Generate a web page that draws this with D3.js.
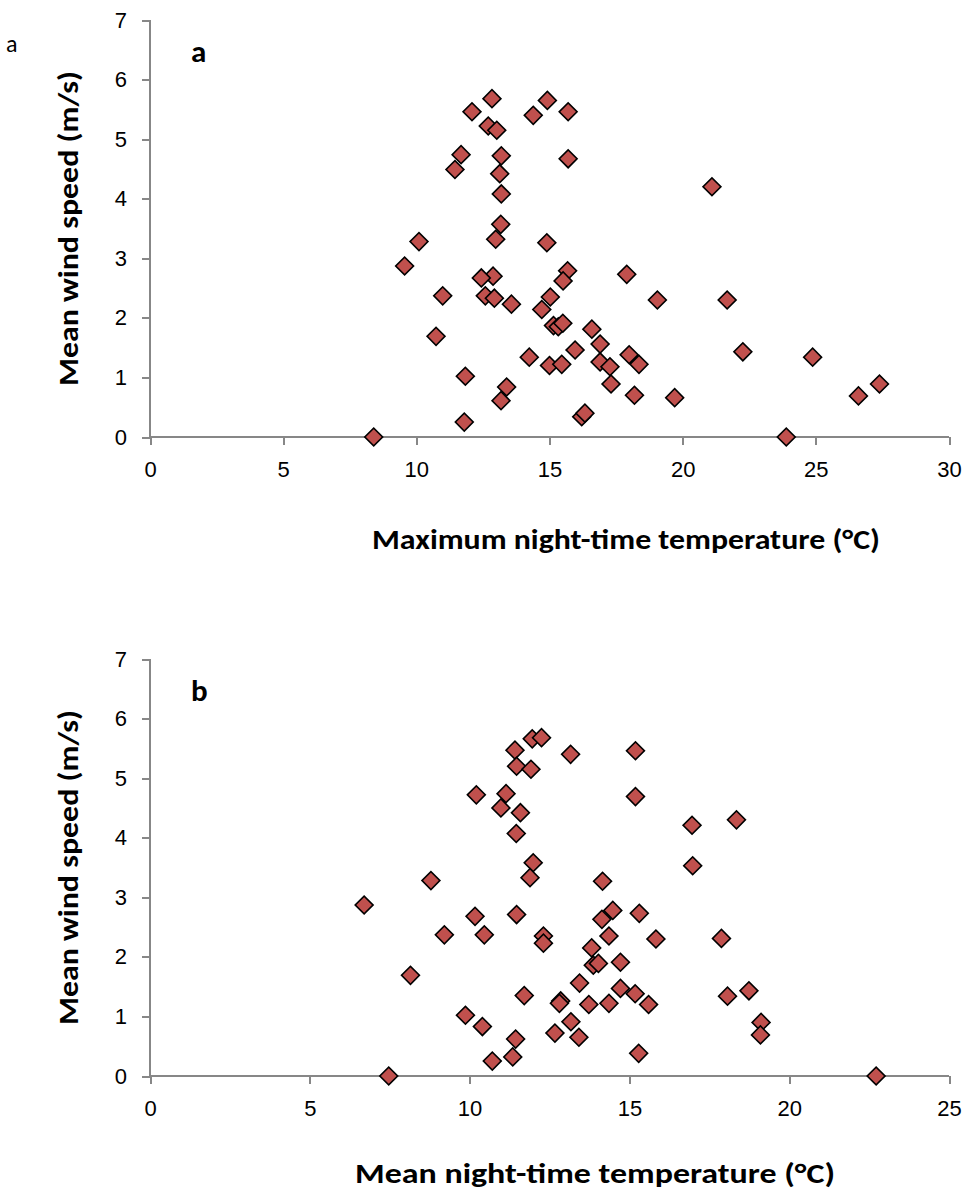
<!DOCTYPE html>
<html>
<head>
<meta charset="utf-8">
<script src="https://cdn.jsdelivr.net/npm/d3@7"></script>
<style>
  body { margin: 0; background: #fff; }
  svg { display: block; font-family: Carlito, Calibri, Lato, sans-serif; }
  .axis path, .axis line { stroke: #878787; stroke-width: 2; shape-rendering: crispedges; }
  .axis text { fill: #000; font-size: 22px; }
  .axisTitle { font-weight: bold; font-size: 29px; fill: #000; }
  .panelLabel { font-weight: bold; font-size: 31px; fill: #000; }
</style>
</head>
<body>
<svg id="chart" width="968" height="1191"></svg>
<script>
// panel a: maximum night-time temperature vs mean wind speed
let maxTemp = [12.84, 12.09, 12.70, 13.02, 14.92, 14.39, 15.70, 11.68, 11.45, 13.19,
    13.13, 15.70, 13.19, 13.17, 12.98, 10.10, 14.90, 9.56, 15.68, 15.51,
    12.88, 12.44, 10.99, 12.59, 12.93, 13.57, 15.03, 14.71, 15.15, 15.33,
    15.50, 16.59, 10.74, 15.96, 14.24, 15.00, 15.46, 11.84, 13.39, 13.18,
    16.21, 16.33, 11.80, 8.40, 21.10, 17.90, 19.05, 21.67, 16.90, 17.99,
    18.36, 22.26, 24.88, 16.90, 17.27, 17.31, 18.19, 19.70, 26.60, 27.39,
    23.89];
let windA = [5.68, 5.46, 5.22, 5.15, 5.65, 5.40, 5.46, 4.74, 4.49, 4.72,
    4.42, 4.67, 4.08, 3.57, 3.32, 3.28, 3.26, 2.87, 2.79, 2.62,
    2.70, 2.67, 2.37, 2.37, 2.33, 2.23, 2.35, 2.14, 1.87, 1.85,
    1.91, 1.81, 1.69, 1.46, 1.34, 1.20, 1.22, 1.02, 0.84, 0.61,
    0.34, 0.40, 0.25, 0.00, 4.20, 2.73, 2.30, 2.30, 1.56, 1.38,
    1.22, 1.43, 1.34, 1.26, 1.18, 0.89, 0.70, 0.66, 0.69, 0.89,
    0.00];

// panel b: mean night-time temperature vs mean wind speed
let meanTemp = [11.96, 12.25, 11.42, 11.47, 11.92, 13.16, 15.19, 11.14, 10.21, 10.98,
    11.59, 11.46, 15.19, 16.96, 18.35, 11.99, 11.89, 8.79, 16.98, 14.16,
    6.70, 10.17, 11.47, 9.21, 10.46, 12.31, 12.31, 14.48, 14.14, 15.31,
    14.36, 15.83, 17.88, 13.82, 13.87, 14.03, 14.72, 8.15, 13.44, 14.72,
    15.18, 15.60, 18.07, 18.74, 12.85, 12.81, 13.73, 14.36, 11.71, 9.87,
    10.40, 11.44, 11.35, 10.71, 13.17, 12.67, 13.42, 19.12, 19.10, 15.29,
    7.47, 22.72];
let windB = [5.66, 5.68, 5.47, 5.20, 5.15, 5.40, 5.46, 4.74, 4.72, 4.50,
    4.42, 4.07, 4.69, 4.21, 4.30, 3.58, 3.33, 3.28, 3.53, 3.27,
    2.87, 2.68, 2.71, 2.37, 2.37, 2.35, 2.23, 2.78, 2.63, 2.73,
    2.35, 2.30, 2.31, 2.15, 1.86, 1.89, 1.91, 1.69, 1.56, 1.47,
    1.38, 1.20, 1.34, 1.43, 1.26, 1.22, 1.20, 1.22, 1.35, 1.02,
    0.83, 0.62, 0.32, 0.25, 0.91, 0.72, 0.65, 0.90, 0.69, 0.38,
    0.00, 0.00];

let windTicks = [0, 1, 2, 3, 4, 5, 6, 7];
let maxTempTicks = [0, 5, 10, 15, 20, 25, 30];
let meanTempTicks = [0, 5, 10, 15, 20, 25];

let svg = d3.select("#chart");

function drawPanel(opts) {
    let left = 150, right = 949;
    let top = opts.top, bottom = opts.bottom;

    let x = d3.scaleLinear().domain(d3.extent(opts.xTicks)).range([left, right]);
    let y = d3.scaleLinear().domain(d3.extent(windTicks)).range([bottom, top]);

    let g = svg.append("g").attr("class", "panel");

    let xAxis = g.append("g")
        .attr("class", "axis")
        .attr("transform", `translate(0,${bottom})`)
        .call(d3.axisBottom(x).tickValues(opts.xTicks).tickSize(8).tickPadding(16).tickFormat(d3.format("d")));
    xAxis.select(".domain").attr("d", `M${left},0H${right}`);

    let yAxis = g.append("g")
        .attr("class", "axis")
        .attr("transform", `translate(${left},0)`)
        .call(d3.axisLeft(y).tickValues(windTicks).tickSize(8).tickPadding(15).tickFormat(d3.format("d")));
    yAxis.select(".domain").attr("d", `M0,${top}V${bottom}`);

    let pts = opts.xs.map((v, i) => [v, opts.ys[i]]);
    let diamond = d3.symbol().type(d3.symbolSquare).size(160);
    g.selectAll("path.data")
        .data(pts)
        .join("path")
        .attr("class", "data")
        .attr("d", diamond)
        .attr("transform", d => `translate(${x(d[0])},${y(d[1])}) rotate(45)`)
        .style("fill", "#C0504D")
        .style("stroke", "#000")
        .style("stroke-width", 1.6);

    g.append("text")
        .attr("class", "panelLabel")
        .attr("x", 191)
        .attr("y", top + 42)
        .text(opts.label);

    g.append("text")
        .attr("class", "axisTitle")
        .attr("text-anchor", "middle")
        .attr("x", opts.xTitleX)
        .attr("y", bottom + opts.xTitleDy)
        .attr("textLength", opts.xTitleLen)
        .attr("lengthAdjust", "spacingAndGlyphs")
        .text(opts.xTitle);

    g.append("text")
        .attr("class", "axisTitle")
        .attr("text-anchor", "middle")
        .attr("transform", `translate(78,${(top + bottom) / 2}) rotate(-90)`)
        .attr("textLength", 315)
        .attr("lengthAdjust", "spacingAndGlyphs")
        .text("Mean wind speed (m/s)");
}

drawPanel({
    top: 20, bottom: 437, label: "a",
    xs: maxTemp, ys: windA, xTicks: maxTempTicks,
    xTitle: "Maximum night-time temperature (°C)", xTitleX: 626, xTitleDy: 112, xTitleLen: 508
});

drawPanel({
    top: 659, bottom: 1076, label: "b",
    xs: meanTemp, ys: windB, xTicks: meanTempTicks,
    xTitle: "Mean night-time temperature (°C)", xTitleX: 595, xTitleDy: 107, xTitleLen: 480
});

svg.append("text")
    .attr("x", 6)
    .attr("y", 52)
    .style("font-size", "24px")
    .text("a");
</script>
</body>
</html>
